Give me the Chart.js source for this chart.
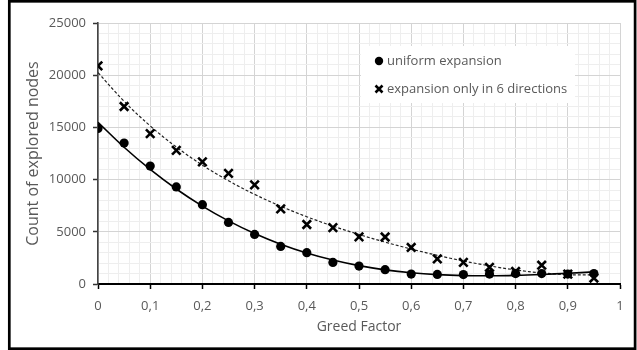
<!DOCTYPE html>
<html>
<head>
<meta charset="utf-8">
<script src="https://cdn.jsdelivr.net/npm/chart.js@4.4.1/dist/chart.umd.min.js"></script>
<style>
  html, body { margin: 0; padding: 0; background: #fff; }
  #wrap { width: 637px; height: 350px; }
</style>
</head>
<body>
<div id="wrap"><canvas id="grafico" width="637" height="350"></canvas></div>
<script>
// datos
const greedFactor = [0, 0.05, 0.1, 0.15, 0.2, 0.25, 0.3, 0.35, 0.4, 0.45, 0.5, 0.55, 0.6, 0.65, 0.7, 0.75, 0.8, 0.85, 0.9, 0.95];
const uniformNodes = [14900, 13500, 11300, 9300, 7600, 5900, 4750, 3600, 3000, 2070, 1720, 1370, 950, 920, 900, 950, 1000, 1000, 950, 1000];
const sixDirNodes = [20900, 17000, 14400, 12800, 11700, 10600, 9500, 7200, 5700, 5400, 4520, 4500, 3500, 2400, 2070, 1600, 1200, 1800, 950, 570];
const yTicks = [0, 5000, 10000, 15000, 20000, 25000];
const xTicks = [0, 0.1, 0.2, 0.3, 0.4, 0.5, 0.6, 0.7, 0.8, 0.9, 1];
const seriesNames = ['uniform expansion', 'expansion only in 6 directions'];

// línea de tendencia polinómica (mínimos cuadrados), como en Excel
function polyFit(xs, ys, order) {
    const n = order + 1;
    const A = [];
    for (let i = 0; i < n; i++) {
        A.push(new Array(n + 1).fill(0));
    }
    for (let k = 0; k < xs.length; k++) {
        for (let i = 0; i < n; i++) {
            for (let j = 0; j < n; j++) A[i][j] += Math.pow(xs[k], i + j);
            A[i][n] += ys[k] * Math.pow(xs[k], i);
        }
    }
    for (let i = 0; i < n; i++) {
        let p = i;
        for (let r = i + 1; r < n; r++) if (Math.abs(A[r][i]) > Math.abs(A[p][i])) p = r;
        [A[i], A[p]] = [A[p], A[i]];
        for (let r = 0; r < n; r++) {
            if (r === i) continue;
            const f = A[r][i] / A[i][i];
            for (let c = i; c <= n; c++) A[r][c] -= f * A[i][c];
        }
    }
    const coef = A.map((row, i) => row[n] / row[i]);
    return x => coef.reduce((s, c, i) => s + c * Math.pow(x, i), 0);
}

const fitUniform = polyFit(greedFactor, uniformNodes, 3);
const fitSixDir = polyFit(greedFactor, sixDirNodes, 4);

const toXY = (ys) => greedFactor.map((x, i) => ({ x: x, y: ys[i] }));
const trendXY = (f) => greedFactor.map(x => ({ x: x, y: f(x) }));

const esMayorX = v => Math.round(v * 100) % 10 === 0;
const esMayorY = v => Math.round(v) % 5000 === 0;

// marco negro alrededor de la imagen
const marco = {
    id: 'marco',
    afterDraw(chart) {
        const ctx = chart.ctx;
        ctx.save();
        ctx.strokeStyle = '#000';
        ctx.lineWidth = 2.7;
        ctx.strokeRect(9.3, 1.3, 625.8, 347.4);
        ctx.restore();
    }
};

// leyenda dentro del área del gráfico
const leyenda = {
    id: 'leyenda',
    afterDatasetsDraw(chart) {
        const ctx = chart.ctx;
        ctx.save();
        ctx.fillStyle = '#fff';
        ctx.fillRect(361, 46, 214, 57);
        ctx.font = '13px "Open Sans"';
        ctx.textBaseline = 'middle';
        ctx.fillStyle = '#595959';
        ctx.fillText(seriesNames[0], 387, 61);
        ctx.fillText(seriesNames[1], 387, 89);
        ctx.fillStyle = '#000';
        ctx.beginPath();
        ctx.arc(379, 61, 4.2, 0, Math.PI * 2);
        ctx.fill();
        ctx.strokeStyle = '#000';
        ctx.lineWidth = 2.6;
        ctx.beginPath();
        ctx.moveTo(375.5, 85.5); ctx.lineTo(382.5, 92.5);
        ctx.moveTo(382.5, 85.5); ctx.lineTo(375.5, 92.5);
        ctx.stroke();
        ctx.restore();
    }
};

function crearGrafico() {
    const ctx = document.getElementById('grafico').getContext('2d');
    Chart.defaults.font.family = '"Open Sans", sans-serif';
    Chart.defaults.color = '#595959';

    new Chart(ctx, {
        type: 'scatter',
        data: {
            datasets: [
                {
                    label: 'trend ' + seriesNames[0],
                    data: trendXY(fitUniform),
                    showLine: true,
                    borderColor: '#000',
                    borderWidth: 1.6,
                    pointRadius: 0,
                    tension: 0.4,
                    order: 3
                },
                {
                    label: 'trend ' + seriesNames[1],
                    data: trendXY(fitSixDir),
                    showLine: true,
                    borderColor: '#222',
                    borderWidth: 1.2,
                    borderDash: [3, 2],
                    pointRadius: 0,
                    tension: 0.4,
                    order: 4
                },
                {
                    label: seriesNames[0],
                    data: toXY(uniformNodes),
                    pointStyle: 'circle',
                    pointRadius: 4.6,
                    backgroundColor: '#000',
                    borderColor: '#000',
                    borderWidth: 0,
                    order: 1
                },
                {
                    label: seriesNames[1],
                    data: toXY(sixDirNodes),
                    pointStyle: 'crossRot',
                    pointRadius: 6,
                    borderColor: '#000',
                    borderWidth: 2.6,
                    order: 2
                }
            ]
        },
        options: {
            responsive: false,
            animation: false,
            layout: { padding: { left: 10, right: 17, top: 23, bottom: 4 } },
            plugins: {
                legend: { display: false },
                tooltip: { enabled: false }
            },
            scales: {
                x: {
                    type: 'linear',
                    min: xTicks[0],
                    max: xTicks[xTicks.length - 1],
                    afterFit: s => { s.height = 62; },
                    ticks: {
                        stepSize: 0.02,
                        autoSkip: false,
                        maxRotation: 0,
                        padding: 9,
                        font: { size: 13 },
                        color: '#595959',
                        callback: v => esMayorX(v) ? String(Math.round(v * 10) / 10).replace('.', ',') : ''
                    },
                    grid: {
                        color: c => esMayorX(c.tick.value) ? '#d4d4d4' : '#eeeeee',
                        tickColor: c => esMayorX(c.tick.value) ? '#000' : 'rgba(0,0,0,0)',
                        tickLength: 5,
                        tickWidth: 1.5
                    },
                    border: { color: '#000', width: 2 },
                    title: {
                        display: true,
                        text: 'Greed Factor',
                        font: { size: 14 },
                        color: '#595959',
                        padding: { top: 0, bottom: 11 }
                    }
                },
                y: {
                    min: yTicks[0],
                    max: yTicks[yTicks.length - 1],
                    afterFit: s => { s.width = 88; },
                    ticks: {
                        stepSize: 1000,
                        autoSkip: false,
                        padding: 7,
                        font: { size: 13 },
                        color: '#595959',
                        callback: v => esMayorY(v) ? String(v) : ''
                    },
                    grid: {
                        color: c => esMayorY(c.tick.value) ? '#d4d4d4' : '#eeeeee',
                        tickColor: c => esMayorY(c.tick.value) ? '#333' : 'rgba(0,0,0,0)',
                        tickLength: 5,
                        tickWidth: 1.5
                    },
                    border: { color: '#444', width: 1.6 },
                    title: {
                        display: true,
                        text: 'Count of explored nodes',
                        font: { size: 16 },
                        color: '#595959',
                        padding: { top: 14, bottom: 0 }
                    }
                }
            }
        },
        plugins: [leyenda, marco]
    });
}

crearGrafico();
</script>
</body>
</html>
